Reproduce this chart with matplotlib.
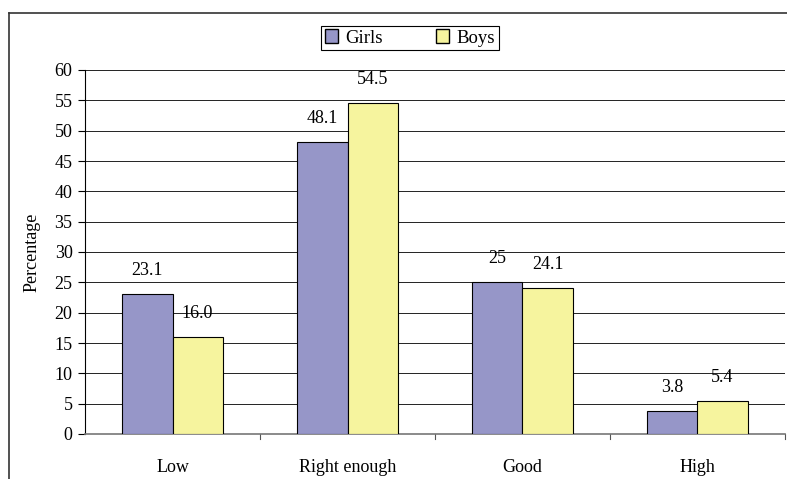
import numpy as np
import matplotlib.pyplot as plt
from matplotlib.lines import Line2D
from matplotlib.patches import Patch

categories = ["Low", "Right enough", "Good", "High"]
girls = [23.1, 48.1, 25, 3.8]
boys = [16.0, 54.5, 24.1, 5.4]
girls_labels = ["23.1", "48.1", "25", "3.8"]
boys_labels = ["16.0", "54.5", "24.1", "5.4"]
yticks = list(range(0, 61, 5))

plt.rcParams['font.family'] = ['Liberation Serif', 'DejaVu Serif']

fig = plt.figure(figsize=(7.87, 4.79), dpi=100)
ax = fig.add_axes([85 / 787, 1 - 434 / 479, 700 / 787, 364 / 479])

x = np.arange(len(categories))
w = 0.286
b1 = ax.bar(x - w / 2, girls, w, color="#9696C8", edgecolor="black", linewidth=0.8, zorder=3)
b2 = ax.bar(x + w / 2, boys, w, color="#F6F49E", edgecolor="black", linewidth=0.8, zorder=3)

for bars, labs in ((b1, girls_labels), (b2, boys_labels)):
    for rect, lab in zip(bars, labs):
        ax.annotate(lab, (rect.get_x() + rect.get_width() / 2, rect.get_height()),
                    xytext=(0, 11), textcoords="offset points",
                    ha="center", va="bottom", fontsize=13)

ax.set_xlim(-0.5, len(categories) - 0.5)
ax.set_ylim(0, 60)
ax.set_yticks(yticks)
ax.tick_params(axis="y", direction="out", length=5, width=0.8, labelsize=13, pad=4)
ax.set_xticks(x)
ax.set_xticklabels(categories, fontsize=13)
ax.tick_params(axis="x", length=0, pad=18)
# category separators on the x axis
for b in np.arange(0.5, len(categories), 1.0):
    ax.plot([b, b], [0, -0.015], transform=ax.get_xaxis_transform(), color="#555555",
            linewidth=0.8, clip_on=False)

ax.yaxis.grid(True, color="#222222", linewidth=0.7, zorder=0)
ax.set_axisbelow(True)
for s in ("top", "right"):
    ax.spines[s].set_visible(False)
ax.spines["left"].set_linewidth(0.8)
ax.spines["bottom"].set_color("#777777")
ax.spines["bottom"].set_linewidth(1.2)

ax.set_ylabel("Percentage", fontsize=13, labelpad=10)

handles = [Patch(facecolor="#9696C8", edgecolor="black", label="Girls"),
           Patch(facecolor="#F6F49E", edgecolor="black", label="Boys")]
leg = fig.legend(handles=handles, loc="center", bbox_to_anchor=(410 / 787, 1 - 38 / 479),
                 ncol=2, prop={"family": "Liberation Serif", "size": 13.5},
                 frameon=True, fancybox=False, edgecolor="black",
                 handlelength=0.7, handleheight=0.7, columnspacing=2.8, handletextpad=0.4,
                 borderpad=0.2, borderaxespad=0, framealpha=1)
leg.get_frame().set_linewidth(0.8)

# outer chart frame (cropped)
fig.add_artist(Line2D([9 / 787, 9 / 787], [0, 1 - 13 / 479], color="#333333", linewidth=1.2))
fig.add_artist(Line2D([9 / 787, 1], [1 - 13 / 479, 1 - 13 / 479], color="#333333", linewidth=1.2))

fig.savefig("out.png", dpi=100)
